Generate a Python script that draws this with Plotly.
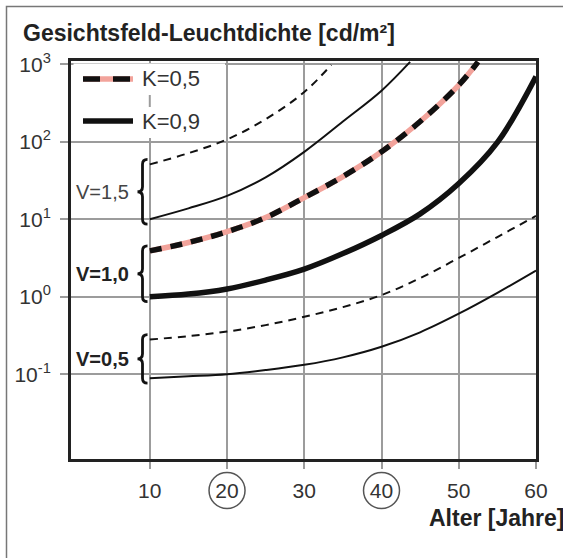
import numpy as np
import plotly.graph_objects as go

# ---------------- data ----------------
ages_std = [10, 15, 20, 25, 30, 35, 40, 45, 50, 55, 60]

# V=0,5
v05_k09 = [0.089, 0.094, 0.10, 0.113, 0.132, 0.165, 0.226, 0.347, 0.603, 1.12, 2.17]
v05_k05 = [0.28, 0.31, 0.355, 0.43, 0.55, 0.733, 1.05, 1.74, 3.16, 5.89, 11.0]
# V=1,0
v10_k09 = [1.0, 1.08, 1.26, 1.64, 2.27, 3.6, 6.17, 11.7, 28.8, 97.7, 692]
ages_v10_k05 = [10, 15, 20, 25, 30, 35, 40, 45, 50, 52.5]
v10_k05 = [3.9, 5.0, 6.9, 10.5, 19, 35.5, 74, 182, 537, 1070]
# V=1,5
ages_v15_k09 = [10, 15, 20, 25, 30, 35, 40, 43.7]
v15_k09 = [10, 13.8, 20, 34.7, 74, 182, 455, 1070]
ages_v15_k05 = [10, 15, 20, 25, 30, 33.5]
v15_k05 = [51, 71, 107, 195, 437, 980]

x_ticks = [10, 20, 30, 40, 50, 60]
x_ticktext = ["10", "20", "30", "40", "50", "60"]
circled_ticks = [20, 40]
y_ticks = [0.1, 1, 10, 100, 1000]
y_ticktext = ["10<sup>-1</sup>", "10<sup>0</sup>", "10<sup>1</sup>", "10<sup>2</sup>", "10<sup>3</sup>"]

v_labels = ["V=1,5", "V=1,0", "V=0,5"]
legend_labels = ["K=0,5", "K=0,9"]
title_text = "Gesichtsfeld-Leuchtdichte [cd/m²]"
xaxis_title = "Alter [Jahre]"

# ---------------- layout constants ----------------
W, H = 563, 558
ML, MR, MT, MB = 71, 27, 61, 99
PW, PH = W - ML - MR, H - MT - MB
XR = [-0.2, 60.0]
YR = [-2.094, 3.041]
FONT = "Liberation Sans, Arial, sans-serif"
BLACK = "#111111"
PINK = "#f2a39b"
GRID = "#9c9c9c"


def px_x(px):
    return (px - ML) / PW


def px_y(py):
    return (H - MB - py) / PH


def val_to_paper_y(v):
    return (np.log10(v) - YR[0]) / (YR[1] - YR[0])


fig = go.Figure()

thin = 2
thick = 5.5

def add(x, y, color, width, dash="solid", sm=1.0):
    fig.add_trace(go.Scatter(x=x, y=y, mode="lines",
                             line=dict(color=color, width=width, dash=dash,
                                       shape="spline", smoothing=sm),
                             hoverinfo="skip", showlegend=False))

# V=0,5
add(ages_std, v05_k09, BLACK, thin)
add(ages_std, v05_k05, BLACK, thin, "8px,6px")
# V=1,0
add(ages_std, v10_k09, BLACK, thick)
add(ages_v10_k05, v10_k05, PINK, thick)
add(ages_v10_k05, v10_k05, BLACK, thick, "12px,9px")
# V=1,5
add(ages_v15_k09, v15_k09, BLACK, thin)
add(ages_v15_k05, v15_k05, BLACK, thin, "8px,6px")

shapes = []
annotations = []

# outer frame
shapes.append(dict(type="rect", xref="paper", yref="paper",
                   x0=px_x(6.5), x1=px_x(600), y0=px_y(600), y1=px_y(6.5),
                   line=dict(color="#777777", width=1.5), layer="below"))

# legend box
shapes.append(dict(type="rect", xref="paper", yref="paper",
                   x0=px_x(73.5), x1=px_x(225), y0=px_y(138), y1=px_y(63.5),
                   fillcolor="white", line=dict(width=0), layer="above"))
shapes.append(dict(type="line", xref="x", yref="paper", x0=10, x1=10,
                   y0=px_y(107), y1=px_y(95), line=dict(color=GRID, width=2), layer="above"))
# legend samples
shapes.append(dict(type="line", xref="paper", yref="paper", x0=px_x(83), x1=px_x(133),
                   y0=px_y(79), y1=px_y(79), line=dict(color=PINK, width=thick), layer="above"))
shapes.append(dict(type="line", xref="paper", yref="paper", x0=px_x(83), x1=px_x(133),
                   y0=px_y(79), y1=px_y(79), line=dict(color=BLACK, width=thick, dash="17px,13px"),
                   layer="above"))
shapes.append(dict(type="line", xref="paper", yref="paper", x0=px_x(83), x1=px_x(133),
                   y0=px_y(121), y1=px_y(121), line=dict(color=BLACK, width=thick), layer="above"))
for lbl, py in zip(legend_labels, [79, 121]):
    annotations.append(dict(text=lbl, xref="paper", yref="paper", x=px_x(140), y=px_y(py),
                            xanchor="left", yanchor="middle", showarrow=False,
                            font=dict(family=FONT, size=22, color="#333333")))

# braces (spanning the start values of each K=0,5 / K=0,9 pair at age 10)
pairs = [(v15_k05[0], v15_k09[0]), (v10_k05[0], v10_k09[0]), (v05_k05[0], v05_k09[0])]
label_bold = [False, True, True]
pad = 5 / PH
xr, xm, xl = px_x(147.5), px_x(142.5), px_x(137.5)
r = 5 / PH
for (top_v, bot_v), lbl, bold in zip(pairs, v_labels, label_bold):
    yt = val_to_paper_y(top_v) + pad
    yb = val_to_paper_y(bot_v) - pad
    ym = (yt + yb) / 2
    path = (f"M {xr},{yt} Q {xm},{yt} {xm},{yt - r} L {xm},{ym + r} "
            f"Q {xm},{ym} {xl},{ym} Q {xm},{ym} {xm},{ym - r} "
            f"L {xm},{yb + r} Q {xm},{yb} {xr},{yb}")
    shapes.append(dict(type="path", xref="paper", yref="paper", path=path,
                       line=dict(color=BLACK, width=2.8), layer="above"))
    txt = f"<b>{lbl}</b>" if bold else lbl
    annotations.append(dict(text=txt, xref="paper", yref="paper", x=px_x(131), y=ym,
                            xanchor="right", yanchor="middle", showarrow=False,
                            font=dict(family=FONT, size=20,
                                      color="#222222" if bold else "#444444")))

# circles around tick labels 20 and 40
for t in circled_ticks:
    shapes.append(dict(type="circle", xref="x", yref="paper",
                       xsizemode="pixel", ysizemode="pixel",
                       xanchor=t, yanchor=px_y(490.5),
                       x0=-18, x1=18, y0=-18, y1=18,
                       line=dict(color="#555555", width=1.5), layer="above"))

# title and x-axis title
annotations.append(dict(text=f"<b>{title_text}</b>", xref="paper", yref="paper",
                        x=px_x(21), y=px_y(33), xanchor="left", yanchor="middle",
                        showarrow=False, font=dict(family=FONT, size=23, color="#222222")))
annotations.append(dict(text=f"<b>{xaxis_title}</b>", xref="paper", yref="paper",
                        x=px_x(566), y=px_y(518), xanchor="right", yanchor="middle",
                        showarrow=False, font=dict(family=FONT, size=23, color="#222222")))

fig.update_layout(
    width=W, height=H,
    margin=dict(l=ML, r=MR, t=MT, b=MB, pad=0),
    paper_bgcolor="white", plot_bgcolor="white",
    shapes=shapes, annotations=annotations,
    showlegend=False,
    font=dict(family=FONT, size=21, color="#333333"),
)
fig.update_xaxes(range=XR, tickvals=x_ticks, ticktext=x_ticktext,
                 showgrid=True, gridcolor=GRID, gridwidth=2,
                 ticks="outside", ticklen=7, tickwidth=2, tickcolor=GRID,
                 ticklabelstandoff=4,
                 showline=True, linecolor="#222222", linewidth=3, mirror=True,
                 zeroline=False, tickfont=dict(family=FONT, size=21, color="#333333"))
fig.update_yaxes(type="log", range=YR, tickvals=y_ticks, ticktext=y_ticktext,
                 showgrid=True, gridcolor=GRID, gridwidth=2,
                 ticks="outside", ticklen=8, tickwidth=2, tickcolor=GRID,
                 ticklabelstandoff=5,
                 showline=True, linecolor="#222222", linewidth=3, mirror=True,
                 zeroline=False, tickfont=dict(family=FONT, size=21, color="#333333"))

fig.write_html("out.html")
